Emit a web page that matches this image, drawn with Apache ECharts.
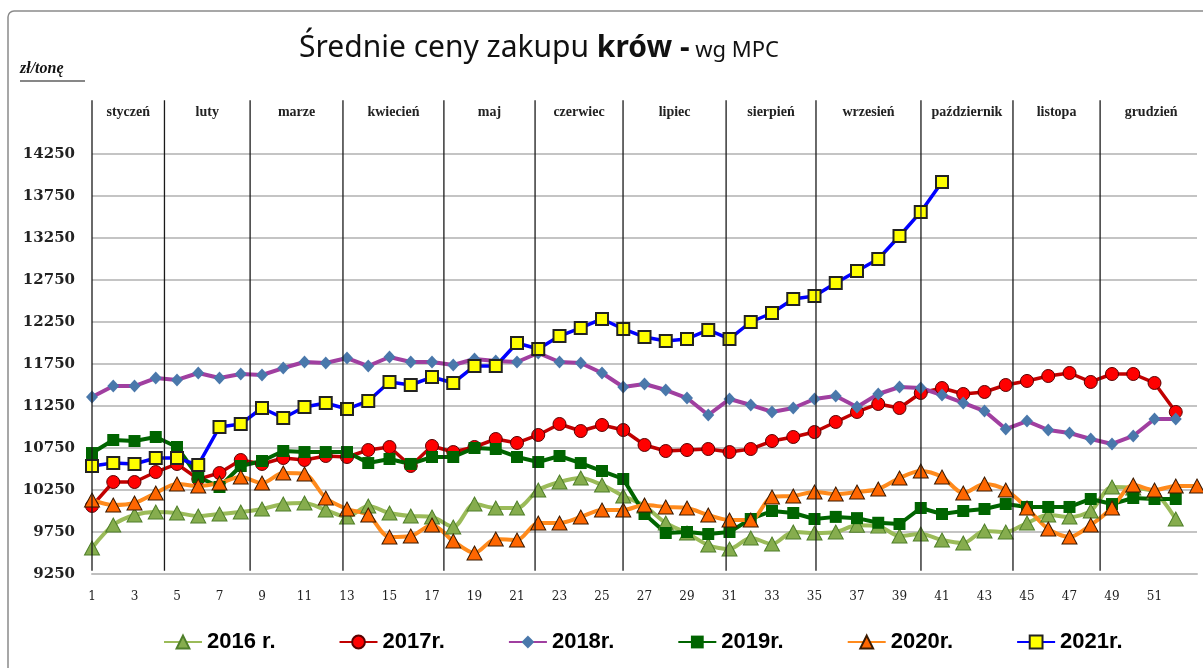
<!DOCTYPE html>
<html>
<head>
<meta charset="utf-8">
<script src="https://cdn.jsdelivr.net/npm/echarts@6/dist/echarts.min.js"></script>
<style>
  html, body { margin: 0; padding: 0; background: #fff; }
  #chart { width: 1203px; height: 668px; }
</style>
</head>
<body>
<div id="chart"></div>
<script>
// weeks of the year (x axis)
var weeks = [1,2,3,4,5,6,7,8,9,10,11,12,13,14,15,16,17,18,19,20,21,22,23,24,25,26,27,
             28,29,30,31,32,33,34,35,36,37,38,39,40,41,42,43,44,45,46,47,48,49,50,51,52,53];

// zł/tonę
var y2016 = [9560,9833,9952,9988,9976,9940,9964,9988,10024,10083,10095,10012,9929,10060,9976,9940,9929,9810,10083,10036,10036,10250,10345,10393,10310,10179,10060,9857,9738,9595,9548,9679,9607,9750,9738,9750,9830,9820,9702,9726,9655,9619,9762,9750,9857,9952,9929,10000,10286,10274,10226,9905];
var y2017 = [10060,10345,10345,10464,10560,10380,10452,10607,10560,10631,10607,10655,10643,10726,10762,10536,10774,10702,10762,10857,10810,10905,11036,10952,11024,10964,10786,10714,10726,10738,10702,10738,10833,10881,10940,11060,11179,11274,11226,11405,11464,11393,11417,11500,11548,11607,11643,11536,11631,11631,11524,11179];
var y2018 = [11357,11488,11488,11583,11560,11643,11583,11631,11619,11702,11774,11762,11821,11726,11833,11774,11774,11738,11810,11786,11774,11881,11774,11762,11643,11476,11512,11440,11345,11143,11333,11262,11179,11226,11333,11369,11238,11393,11476,11464,11381,11286,11190,10976,11071,10964,10929,10857,10798,10893,11095,11095];
var y2019 = [10690,10845,10833,10881,10762,10405,10286,10536,10595,10714,10702,10702,10702,10571,10619,10560,10643,10643,10750,10738,10643,10583,10655,10571,10476,10381,9964,9738,9750,9726,9750,9905,10000,9976,9905,9930,9915,9860,9845,10036,9964,10000,10024,10083,10048,10048,10048,10143,10083,10155,10143,10143];
var y2020 = [10131,10071,10095,10214,10321,10298,10333,10405,10333,10452,10440,10155,10024,9952,9690,9702,9833,9643,9500,9667,9655,9857,9857,9929,10012,10012,10071,10048,10036,9952,9893,9893,10167,10179,10226,10202,10226,10262,10393,10476,10405,10214,10321,10250,10036,9786,9690,9833,10036,10310,10250,10298,10298];
var y2021 = [10536,10571,10560,10631,10630,10548,11000,11036,11226,11107,11238,11286,11214,11310,11536,11500,11595,11524,11726,11726,12000,11929,12083,12179,12286,12167,12071,12024,12048,12155,12048,12250,12357,12524,12560,12714,12857,13000,13274,13560,13917];

var seriesNames = ['2016 r.', '2017r.', '2018r.', '2019r.', '2020r.', '2021r.'];

// month names and where the month separators fall (in weeks)
var months = ['styczeń','luty','marze','kwiecień','maj','czerwiec','lipiec','sierpień','wrzesień','październik','listopa','grudzień'];
var monthBounds = [1, 4.41, 8.44, 12.81, 17.56, 21.85, 25.99, 30.84, 35.07, 40.01, 44.34, 48.44, 53.24];

function pairs(vals) {
    var out = [];
    for (var i = 0; i < vals.length; i++) {
        out.push([weeks[i], vals[i]]);
    }
    return out;
}

var chart = echarts.init(document.getElementById('chart'));

var option = {
    animation: false,
    backgroundColor: '#fff',
    title: {
        left: 294,
        top: 28,
        text: '{a|Średnie ceny zakupu }{b|krów -}{c| wg MPC}',
        textStyle: {
            fontWeight: 'normal',
            rich: {
                a: { fontFamily: 'Noto Sans', fontSize: 30, fontWeight: 'normal', color: '#111' },
                b: { fontFamily: 'Noto Sans', fontSize: 30, fontWeight: 'bold', color: '#111' },
                c: { fontFamily: 'Noto Sans', fontSize: 22, fontWeight: 'normal', color: '#111', padding: [6, 0, 0, 0] }
            }
        }
    },
    grid: {
        left: 92,
        right: 6,
        top: 154,
        bottom: 94
    },
    legend: {
        bottom: 10,
        left: 158,
        itemWidth: 38,
        itemHeight: 16,
        itemGap: 63,
        textStyle: {
            fontFamily: 'Liberation Sans',
            fontWeight: 'bold',
            fontSize: 22,
            color: '#000'
        },
        data: seriesNames
    },
    xAxis: {
        type: 'value',
        min: 1,
        max: 53,
        interval: 2,
        axisLine: { show: true, lineStyle: { color: '#bfbfbf', width: 2 } },
        axisTick: { show: false },
        splitLine: { show: false },
        axisLabel: {
            margin: 17,
            fontFamily: 'DejaVu Serif',
            fontSize: 12,
            color: '#222',
            formatter: function (v) { return v === 53 ? '' : String(v); }
        }
    },
    yAxis: {
        type: 'value',
        min: 9250,
        max: 14250,
        interval: 500,
        axisLine: { show: false },
        axisTick: { show: false },
        splitLine: { lineStyle: { color: '#c4c4c4', width: 2 } },
        axisLabel: {
            margin: 17,
            fontFamily: 'DejaVu Serif',
            fontWeight: 'bold',
            fontSize: 15,
            color: '#222',
            formatter: function (v) { return String(v); }
        }
    },
    series: [
        {
            name: '2016 r.',
            type: 'line',
            smooth: 0.3,
            data: pairs(y2016),
            symbol: 'triangle',
            symbolSize: [15, 14],
            lineStyle: { color: '#9bbb59', width: 4 },
            itemStyle: { color: '#86ad4e', borderColor: '#4f7f2a', borderWidth: 1 }
        },
        {
            name: '2017r.',
            type: 'line',
            data: pairs(y2017),
            symbol: 'circle',
            symbolSize: 13,
            lineStyle: { color: '#c00000', width: 3.5 },
            itemStyle: { color: '#ff0000', borderColor: '#5a0000', borderWidth: 1 }
        },
        {
            name: '2018r.',
            type: 'line',
            data: pairs(y2018),
            symbol: 'diamond',
            symbolSize: [12, 13],
            lineStyle: { color: '#a03fa0', width: 4 },
            itemStyle: { color: '#4a78ab', borderWidth: 0 }
        },
        {
            name: '2019r.',
            type: 'line',
            data: pairs(y2019),
            symbol: 'rect',
            symbolSize: 12,
            lineStyle: { color: '#006400', width: 4 },
            itemStyle: { color: '#006400', borderWidth: 0 }
        },
        {
            name: '2020r.',
            type: 'line',
            smooth: 0.3,
            data: pairs(y2020),
            symbol: 'triangle',
            symbolSize: [15, 14],
            lineStyle: { color: '#ff8a1c', width: 4 },
            itemStyle: { color: '#ff6600', borderColor: '#3a1a00', borderWidth: 1 }
        },
        {
            name: '2021r.',
            type: 'line',
            data: pairs(y2021),
            symbol: 'rect',
            symbolSize: 12,
            lineStyle: { color: '#0000ff', width: 3.5 },
            itemStyle: { color: '#ffff00', borderColor: '#222', borderWidth: 2 }
        }
    ]
};

chart.setOption(option);

// month separators + month names, positioned through the axes
var topY = chart.convertToPixel({ yAxisIndex: 0 }, 14890);
var botY = chart.convertToPixel({ yAxisIndex: 0 }, 9290);
var labelY = chart.convertToPixel({ yAxisIndex: 0 }, 14750);
var graphics = [
    {
        type: 'rect',
        shape: { x: 8, y: 11, width: 1220, height: 700, r: 6 },
        style: { fill: 'none', stroke: '#8a8a8a', lineWidth: 1.5 },
        silent: true
    },
    {
        type: 'text',
        left: 20,
        top: 61,
        style: {
            text: 'zł/tonę',
            font: 'italic bold 16px "Liberation Serif"',
            fill: '#111'
        }
    },
    {
        type: 'line',
        shape: { x1: 20, y1: 81, x2: 85, y2: 81 },
        style: { stroke: '#111', lineWidth: 1.2 }
    }
];
for (var i = 0; i < monthBounds.length; i++) {
    var x = chart.convertToPixel({ xAxisIndex: 0 }, monthBounds[i]);
    if (i < monthBounds.length - 1) {
        graphics.push({
            type: 'line',
            shape: { x1: x, y1: topY, x2: x, y2: botY },
            style: { stroke: '#1a1a1a', lineWidth: 1.3 },
            z: 10
        });
        var x2 = chart.convertToPixel({ xAxisIndex: 0 }, monthBounds[i + 1]);
        graphics.push({
            type: 'text',
            x: (x + x2) / 2,
            y: labelY,
            style: {
                text: months[i],
                font: 'bold 14px "Liberation Serif"',
                fill: '#222',
                align: 'center',
                verticalAlign: 'middle'
            },
            z: 10
        });
    }
}
chart.setOption({ graphic: graphics });
</script>
</body>
</html>
